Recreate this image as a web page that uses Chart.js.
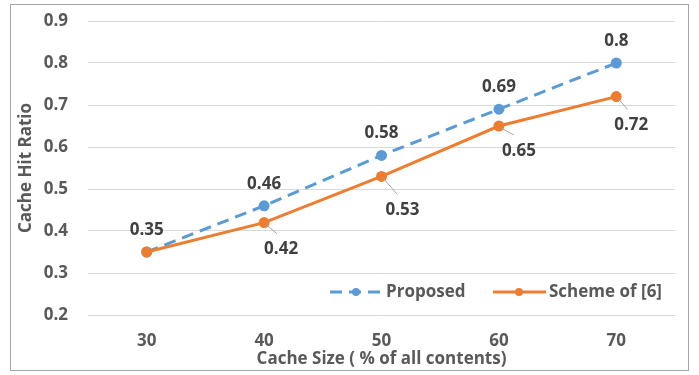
<!DOCTYPE html>
<html>
<head>
<meta charset="utf-8">
<script src="https://cdn.jsdelivr.net/npm/chart.js@4"></script>
<style>
  html, body { margin: 0; padding: 0; background: #ffffff; }
  #wrap { width: 699px; height: 375px; position: relative; }
</style>
</head>
<body>
<div id="wrap"><canvas id="chart" width="699" height="375"></canvas></div>
<script>
// Cache size (% of all contents)
const cacheSizes = ['30', '40', '50', '60', '70'];
// Cache hit ratio per scheme
const proposed = [0.35, 0.46, 0.58, 0.69, 0.8];
const schemeOf6 = [0.35, 0.42, 0.53, 0.65, 0.72];
const seriesNames = ['Proposed', 'Scheme of [6]'];
const yTicks = [0.2, 0.3, 0.4, 0.5, 0.6, 0.7, 0.8, 0.9];

const BLUE = '#5B9BD5';
const ORANGE = '#ED7D31';
const TEXT = '#595959';
const LABEL = '#404040';
const FONT = "'Open Sans', 'Noto Sans', sans-serif";
const FONT_SIZE = 17;

// Outer frame around the whole figure
const framePlugin = {
  id: 'frame',
  beforeDraw(chart) {
    const ctx = chart.ctx;
    ctx.save();
    ctx.fillStyle = '#ffffff';
    ctx.fillRect(0, 0, chart.width, chart.height);
    ctx.strokeStyle = '#a6a6a6';
    ctx.lineWidth = 1;
    ctx.strokeRect(10.5, 4.5, 678, 366);
    ctx.restore();
  }
};

// Callout placement (dx, dy) for the second series' labels
const calloutOffsets = [null, [17, 27], [21, 34], [20, 25], [15, 29]];

// Value labels: above the points for the first series, callouts below-right for the second
const valueLabels = {
  id: 'valueLabels',
  afterDatasetsDraw(chart) {
    const ctx = chart.ctx;
    ctx.save();
    ctx.font = "bold " + FONT_SIZE + "px " + FONT;
    ctx.fillStyle = LABEL;
    ctx.textAlign = 'center';
    ctx.textBaseline = 'middle';
    chart.data.datasets.forEach((ds, di) => {
      const meta = chart.getDatasetMeta(di);
      meta.data.forEach((pt, i) => {
        const txt = String(ds.data[i]);
        if (ds.labelMode === 'above') {
          ctx.fillText(txt, pt.x, pt.y - 22);
        } else {
          const off = calloutOffsets[i];
          if (!off) return; // shares its point with the other series
          const [dx, dy] = off;
          ctx.strokeStyle = '#a6a6a6';
          ctx.lineWidth = 1;
          ctx.beginPath();
          ctx.moveTo(pt.x + 2, pt.y + 2);
          ctx.lineTo(pt.x + dx * 0.75, pt.y + dy - 16);
          ctx.stroke();
          ctx.fillText(txt, pt.x + dx, pt.y + dy);
        }
      });
    });
    ctx.restore();
  }
};

// Legend drawn inside the plot, lower right
const innerLegend = {
  id: 'innerLegend',
  afterDraw(chart) {
    const ctx = chart.ctx;
    const y = 292;
    const items = [
      { ds: chart.data.datasets.find(d => d.label === seriesNames[0]), x: 330 },
      { ds: chart.data.datasets.find(d => d.label === seriesNames[1]), x: 493 }
    ];
    ctx.save();
    ctx.font = "bold " + FONT_SIZE + "px " + FONT;
    ctx.textBaseline = 'middle';
    ctx.textAlign = 'left';
    items.forEach(it => {
      const ds = it.ds;
      ctx.strokeStyle = ds.borderColor;
      ctx.lineWidth = 3;
      ctx.setLineDash(ds.borderDash || []);
      ctx.beginPath();
      ctx.moveTo(it.x, y);
      ctx.lineTo(it.x + 53, y);
      ctx.stroke();
      ctx.setLineDash([]);
      ctx.fillStyle = ds.pointBackgroundColor;
      ctx.beginPath();
      ctx.arc(it.x + 26, y, 4, 0, Math.PI * 2);
      ctx.fill();
      ctx.fillStyle = TEXT;
      ctx.fillText(ds.label, it.x + 56, y);
    });
    ctx.restore();
  }
};

new Chart(document.getElementById('chart'), {
  type: 'line',
  data: {
    labels: cacheSizes,
    datasets: [
      {
        label: seriesNames[0],
        data: proposed,
        borderColor: BLUE,
        backgroundColor: BLUE,
        pointBackgroundColor: BLUE,
        pointBorderColor: BLUE,
        borderWidth: 3,
        borderDash: [12, 7],
        pointRadius: 4,
        tension: 0,
        order: 1,
        labelMode: 'above'
      },
      {
        label: seriesNames[1],
        data: schemeOf6,
        borderColor: ORANGE,
        backgroundColor: ORANGE,
        pointBackgroundColor: ORANGE,
        pointBorderColor: ORANGE,
        borderWidth: 3,
        pointRadius: 4,
        tension: 0,
        order: 0,
        labelMode: 'callout'
      }
    ]
  },
  options: {
    responsive: false,
    animation: false,
    layout: { padding: { left: 10, right: 24, top: 21, bottom: 0 } },
    plugins: {
      legend: { display: false },
      tooltip: { enabled: false }
    },
    scales: {
      x: {
        offset: true,
        grid: { display: false, drawTicks: false },
        border: { display: false },
        ticks: {
          color: TEXT,
          font: { family: FONT, size: FONT_SIZE, weight: 'bold' },
          padding: 16
        },
        title: {
          display: true,
          text: 'Cache Size ( % of all contents)',
          color: TEXT,
          font: { family: FONT, size: FONT_SIZE, weight: 'bold' },
          padding: { top: 0, bottom: 6 }
        },
        afterFit(scale) {
          scale.height = 60;
          scale.paddingLeft = 0;
          scale.paddingRight = 0;
        }
      },
      y: {
        min: 0.2,
        max: 0.9,
        afterBuildTicks(scale) { scale.ticks = yTicks.map(v => ({ value: v })); },
        grid: { color: '#d9d9d9', lineWidth: 1, drawTicks: false },
        border: { display: false },
        ticks: {
          color: TEXT,
          font: { family: FONT, size: FONT_SIZE, weight: 'bold' },
          padding: 20,
          callback: v => v.toFixed(1)
        },
        title: {
          display: true,
          text: 'Cache Hit Ratio',
          color: TEXT,
          font: { family: FONT, size: FONT_SIZE, weight: 'bold' },
          padding: { top: 6, bottom: 0 }
        },
        afterFit(scale) {
          scale.width = 78;
          scale.paddingTop = 0;
          scale.paddingBottom = 0;
        }
      }
    }
  },
  plugins: [framePlugin, valueLabels, innerLegend]
});
</script>
</body>
</html>
